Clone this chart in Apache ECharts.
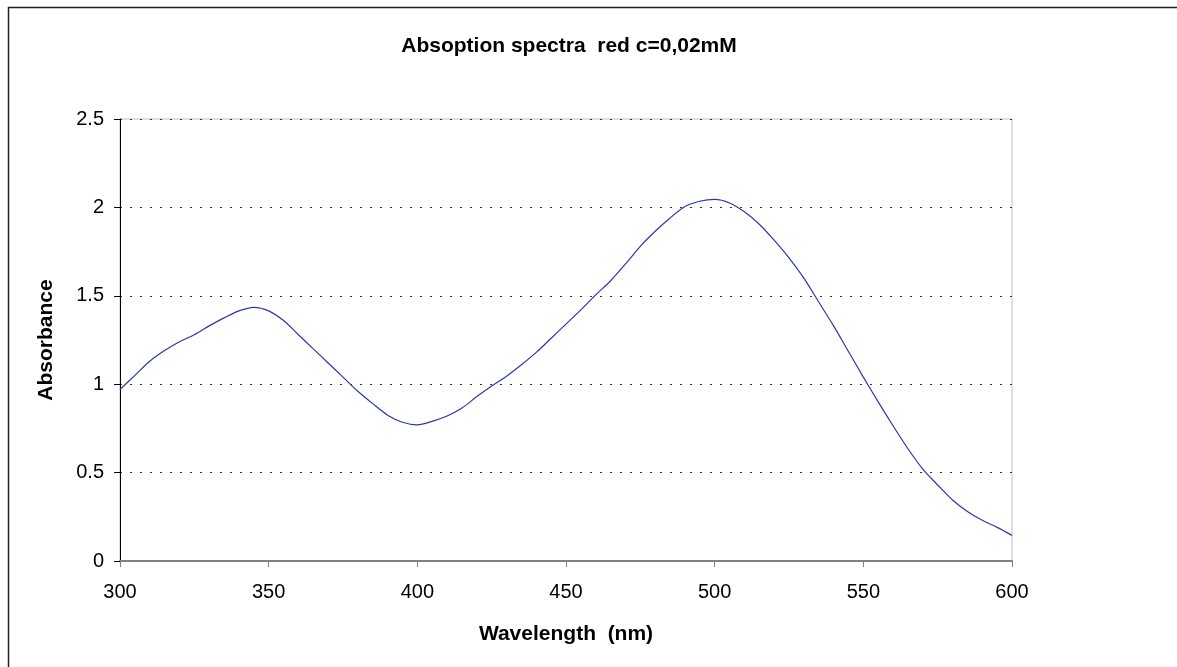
<!DOCTYPE html>
<html>
<head>
<meta charset="utf-8">
<title>Absoption spectra</title>
<script src="https://cdn.jsdelivr.net/npm/echarts@6/dist/echarts.min.js"></script>
<style>
  html, body { margin: 0; padding: 0; background: #fff; }
  #chart { width: 1177px; height: 667px; }
</style>
</head>
<body>
<div id="chart"></div>
<script>
// wavelength (nm), 5 nm steps
const wavelengths = [
  300, 305, 310, 315, 320, 325, 330, 335, 340, 345,
  350, 355, 360, 365, 370, 375, 380, 385, 390, 395,
  400, 405, 410, 415, 420, 425, 430, 435, 440, 445,
  450, 455, 460, 465, 470, 475, 480, 485, 490, 495,
  500, 505, 510, 515, 520, 525, 530, 535, 540, 545,
  550, 555, 560, 565, 570, 575, 580, 585, 590, 595, 600
];
const absorbance = [
  0.97, 1.05, 1.13, 1.19, 1.24, 1.28, 1.33, 1.375, 1.415, 1.435,
  1.415, 1.36, 1.28, 1.20, 1.12, 1.04, 0.96, 0.89, 0.825, 0.785,
  0.77, 0.79, 0.82, 0.865, 0.93, 0.99, 1.045, 1.11, 1.18, 1.26,
  1.34, 1.42, 1.505, 1.585, 1.68, 1.78, 1.865, 1.94, 2.005, 2.035,
  2.045, 2.025, 1.975, 1.905, 1.815, 1.715, 1.60, 1.465, 1.33, 1.185,
  1.04, 0.90, 0.765, 0.635, 0.52, 0.43, 0.345, 0.28, 0.23, 0.19, 0.145
];

const FONT = 'Liberation Sans, Arial, sans-serif';

const chart = echarts.init(document.getElementById('chart'));

const option = {
  backgroundColor: '#fff',
  animation: false,
  title: {
    text: 'Absoption spectra  red c=0,02mM',
    left: 564,
    top: 31,
    textAlign: 'center',
    textStyle: {
      fontFamily: FONT,
      fontSize: 21,
      fontWeight: 'bold',
      color: '#000'
    }
  },
  // outer frame of the chart object
  graphic: [{
    type: 'rect',
    shape: { x: 8.5, y: 7.5, width: 1200, height: 700 },
    style: { fill: 'none', stroke: '#222', lineWidth: 1.5 },
    silent: true
  }],
  grid: {
    left: 120,
    right: 165,
    top: 119,
    bottom: 106,
    show: true,
    borderColor: '#c0c0c0',
    borderWidth: 1
  },
  xAxis: {
    type: 'value',
    min: 300,
    max: 600,
    interval: 50,
    name: 'Wavelength  (nm)',
    nameLocation: 'middle',
    nameGap: 63,
    nameTextStyle: {
      fontFamily: FONT,
      fontSize: 21,
      fontWeight: 'bold',
      color: '#000'
    },
    axisLine: { lineStyle: { color: '#808080', width: 2 } },
    axisTick: { length: 6, lineStyle: { color: '#808080' } },
    axisLabel: {
      margin: 21,
      fontFamily: FONT,
      fontSize: 20,
      color: '#000'
    },
    splitLine: { show: false }
  },
  yAxis: {
    type: 'value',
    min: 0,
    max: 2.5,
    interval: 0.5,
    name: 'Absorbance',
    nameLocation: 'middle',
    nameGap: 63,
    nameTextStyle: {
      fontFamily: FONT,
      fontSize: 21,
      fontWeight: 'bold',
      color: '#000'
    },
    axisLine: { show: true, lineStyle: { color: '#000', width: 1 } },
    axisTick: { show: true, length: 6, lineStyle: { color: '#000' } },
    axisLabel: {
      margin: 16,
      fontFamily: FONT,
      fontSize: 20,
      color: '#000'
    },
    splitLine: {
      show: true,
      lineStyle: { color: '#333', type: [2, 8], width: 1 }
    }
  },
  series: [{
    type: 'line',
    data: wavelengths.map((w, i) => [w, absorbance[i]]),
    showSymbol: false,
    smooth: 0.3,
    lineStyle: { color: '#2a3aa8', width: 1.2 }
  }]
};

chart.setOption(option);
</script>
</body>
</html>
